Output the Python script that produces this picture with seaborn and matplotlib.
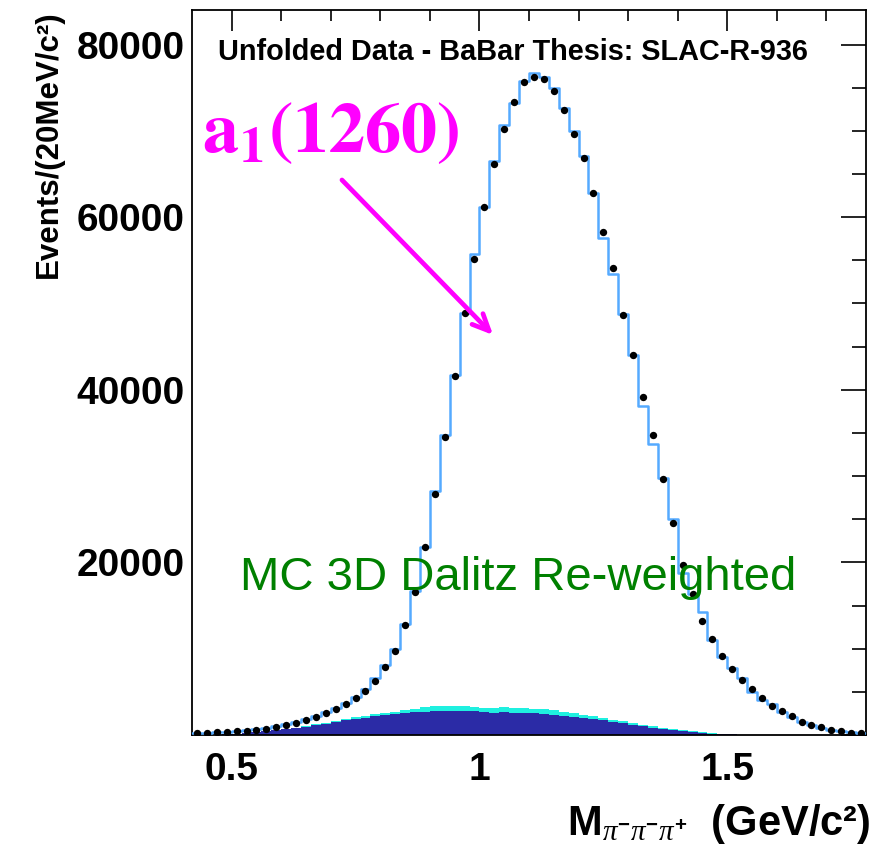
import numpy as np
import pandas as pd
import matplotlib
matplotlib.use("Agg")
import matplotlib.pyplot as plt
from matplotlib.ticker import MultipleLocator, FuncFormatter
import seaborn as sns

# ---------------- data ----------------
bin_lo, bin_hi, bin_w = 0.42, 1.78, 0.02
edges = np.round(np.arange(bin_lo, bin_hi + bin_w / 2, bin_w), 3)
centers = np.round((edges[:-1] + edges[1:]) / 2, 3)
bin_edges = edges.tolist()

data_vals = [270, 280, 320, 380, 430, 510, 620, 740, 920, 1160,
             1420, 1730, 2080, 2500, 2970, 3550, 4240, 5090, 6250, 7900,
             9710, 12750, 16550, 21770, 27940, 34560, 41650, 48860, 55170, 61190,
             66160, 70170, 73290, 75640, 76180, 75950, 74560, 72400, 69670, 66850,
             62810, 58260, 54100, 48700, 44080, 39190, 34760, 29630, 24590, 19750,
             16290, 13180, 11180, 9130, 7590, 6360, 5280, 4310, 3390, 2810,
             2200, 1540, 1120, 960, 580, 430, 270, 200]

mc_vals = [250, 280, 330, 400, 470, 560, 680, 820, 1000, 1230,
           1500, 1820, 2200, 2650, 3150, 3750, 4450, 5350, 6550, 8090,
           10020, 12910, 16700, 21770, 28240, 34760, 41730, 48860, 55750, 61190,
           66470, 70710, 73210, 75800, 76680, 76180, 74940, 72630, 70010, 67130,
           62810, 57600, 53440, 48750, 44040, 38110, 33720, 29750, 25010, 18760,
           16380, 14260, 10980, 9050, 7820, 6550, 5010, 4050, 3580, 2690,
           2120, 1540, 1160, 770, 580, 450, 300, 220]

bkg_navy = [0, 0, 20, 60, 130, 220, 320, 420, 530, 660,
            800, 960, 1130, 1320, 1520, 1700, 1870, 2020, 2170, 2300,
            2420, 2520, 2620, 2690, 2740, 2770, 2780, 2770, 2740, 2690,
            2560, 2620, 2600, 2570, 2510, 2440, 2350, 2250, 2130, 2000,
            1860, 1710, 1550, 1370, 1190, 1020, 860, 710, 570, 440,
            330, 240, 170, 110, 70, 40, 20, 10, 0, 0,
            0, 0, 0, 0, 0, 0, 0, 0]

bkg_cyan = [0, 0, 10, 10, 20, 20, 30, 30, 40, 50,
            60, 80, 100, 120, 150, 170, 190, 220, 240, 260,
            300, 330, 400, 560, 580, 590, 580, 570, 560, 450,
            560, 650, 560, 560, 560, 550, 500, 450, 380, 340,
            300, 260, 230, 200, 180, 160, 140, 120, 110, 100,
            90, 90, 40, 20, 10, 0, 0, 0, 0, 0,
            0, 0, 0, 0, 0, 0, 0, 0]

x_ticks_major = [0.5, 1.0, 1.5]

df = pd.DataFrame({"m": centers, "data": data_vals, "mc": mc_vals,
                   "navy": bkg_navy, "cyan": bkg_cyan})
df["stack_top"] = df["navy"] + df["cyan"]

# ---------------- styling ----------------
sns.set_style("white")
plt.rcParams["font.family"] = ["Liberation Sans", "DejaVu Sans"]
plt.rcParams["text.color"] = "black"
plt.rcParams["axes.labelcolor"] = "black"
plt.rcParams["xtick.color"] = "black"
plt.rcParams["ytick.color"] = "black"
plt.rcParams["mathtext.fontset"] = "custom"
plt.rcParams["mathtext.rm"] = "Liberation Sans:bold"
plt.rcParams["mathtext.bf"] = "Liberation Sans:bold"
plt.rcParams["mathtext.it"] = "Liberation Serif:italic"

NAVY = "#2b2ba6"
CYAN = "#1ff0e0"
LINE = "#55aaff"
MAGENTA = "#ff00ff"
GREEN = "#008000"

fig = plt.figure(figsize=(8.72, 8.56), dpi=100)
ax = fig.add_axes([192 / 872, 1 - 735 / 856, 674 / 872, 725 / 856])

sns.histplot(data=df, x="m", weights="stack_top", bins=bin_edges, element="step",
             fill=True, color=CYAN, alpha=1, linewidth=0, ax=ax, zorder=1)
sns.histplot(data=df, x="m", weights="navy", bins=bin_edges, element="step",
             fill=True, color=NAVY, alpha=1, linewidth=0, ax=ax, zorder=2)
sns.histplot(data=df, x="m", weights="mc", bins=bin_edges, element="step",
             fill=False, color=LINE, linewidth=1.8, ax=ax, zorder=3)
sns.scatterplot(data=df, x="m", y="data", color="black", s=28, linewidth=0,
                ax=ax, zorder=5)

ax.set_xlim(bin_lo, bin_hi)
ax.set_ylim(0, 84000)

ax.set_xticks(x_ticks_major)
ax.xaxis.set_minor_locator(MultipleLocator(0.1))
ax.yaxis.set_major_locator(MultipleLocator(20000))
ax.yaxis.set_minor_locator(MultipleLocator(5000))
ax.xaxis.set_major_formatter(FuncFormatter(lambda v, p: "%g" % v))
ax.yaxis.set_major_formatter(FuncFormatter(lambda v, p: "" if v == 0 else "%d" % v))

ax.tick_params(axis="both", which="both", direction="in", top=True, right=True,
               color="black", labelcolor="black", width=1.2)
ax.tick_params(axis="x", which="major", length=15, pad=12)
ax.tick_params(axis="x", which="minor", length=8)
ax.tick_params(axis="y", which="major", length=18, pad=5)
ax.tick_params(axis="y", which="minor", length=10)
for lab in ax.get_xticklabels() + ax.get_yticklabels():
    lab.set_fontsize(28)
    lab.set_fontweight("bold")

for sp in ax.spines.values():
    sp.set_color("black")
    sp.set_linewidth(1.3)

ax.set_ylabel("Events/(20MeV/c²)", fontsize=22.5, fontweight="bold",
              color="black", loc="top")
ax.yaxis.set_label_coords(-0.19, 1.0)
ax.set_xlabel(r"M$_{\pi^{-}\pi^{-}\pi^{+}}$  (GeV/c²)", fontsize=30,
              fontweight="bold", color="black", loc="right")
ax.xaxis.set_label_coords(1.006, -0.092)

ax.text(0.0386, 0.931, "Unfolded Data - BaBar Thesis: SLAC-R-936",
        transform=ax.transAxes, fontsize=20.8, fontweight="bold",
        ha="left", va="baseline", color="black", zorder=6)
ax.text(0.0148, 0.804, r"$\mathbf{a_1(1260)}$", transform=ax.transAxes,
        fontsize=52, color=MAGENTA, math_fontfamily="stix",
        ha="left", va="baseline", zorder=6)
ax.text(0.0712, 0.2, "MC 3D Dalitz Re-weighted", transform=ax.transAxes,
        fontsize=34, color=GREEN, ha="left", va="baseline", zorder=6)
ax.annotate("", xy=(0.4496, 0.549), xytext=(0.2196, 0.7683),
            xycoords="axes fraction", textcoords="axes fraction",
            arrowprops=dict(arrowstyle="->,head_length=1.2,head_width=0.55",
                            color=MAGENTA, lw=3.4), zorder=6)

fig.savefig("out.png", dpi=100)
